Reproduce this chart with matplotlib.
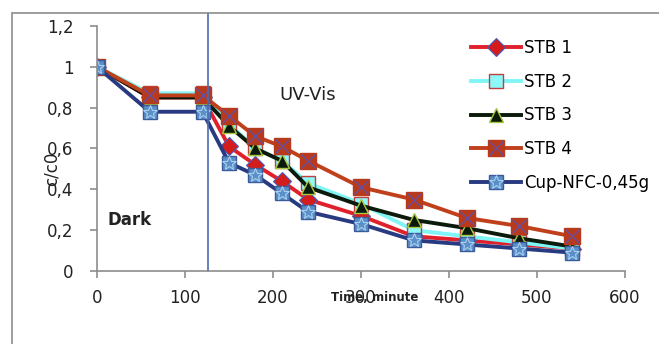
import matplotlib.pyplot as plt
from matplotlib.patches import Rectangle
from matplotlib.legend_handler import HandlerTuple
from matplotlib.ticker import FuncFormatter

# data
time = [0, 60, 120, 150, 180, 210, 240, 300, 360, 420, 480, 540]
stb1 = [1, 0.85, 0.85, 0.61, 0.52, 0.44, 0.35, 0.27, 0.17, 0.15, 0.13, 0.11]
stb2 = [1, 0.87, 0.87, 0.72, 0.60, 0.54, 0.43, 0.33, 0.20, 0.17, 0.14, 0.11]
stb3 = [1, 0.85, 0.85, 0.71, 0.60, 0.54, 0.41, 0.32, 0.25, 0.21, 0.16, 0.12]
stb4 = [1, 0.86, 0.86, 0.76, 0.66, 0.61, 0.54, 0.41, 0.35, 0.26, 0.22, 0.17]
cup = [1, 0.78, 0.78, 0.53, 0.47, 0.38, 0.29, 0.23, 0.15, 0.13, 0.11, 0.09]
uv_start = 126

fig = plt.figure(figsize=(6.59, 3.44), dpi=100)
# outer chart frame
fig.patches.append(Rectangle((12/659, -0.1), 700/659, 1 - 13/344 + 0.1,
                             transform=fig.transFigure, fill=False,
                             edgecolor='#8c8c8c', lw=1.2))
ax = fig.add_axes([97/659, 73/344, 528/659, 245/344])

ms = 10
lw = 2.8
l1, = ax.plot(time, stb1, color='#e0202a', lw=lw, marker='D', ms=ms-1,
              mfc='#d41c1c', mec='#4060c0', mew=0.8, label='STB 1')
l2, = ax.plot(time, stb2, color='#7ff5f5', lw=lw, marker='s', ms=ms,
              mfc='#8ff8f8', mec='#c04040', mew=1, label='STB 2')
l3, = ax.plot(time, stb3, color='#0b1a0b', lw=lw, marker='^', ms=ms,
              mfc='#0b1a0b', mec='#a8c840', mew=1, label='STB 3')
l4, = ax.plot(time, stb4, color='#c0401c', lw=lw, marker='s', ms=ms+1,
              mfc='#b83a1c', mec='#b83a1c', label='STB 4')
l4x, = ax.plot(time, stb4, ls='none', marker='x', ms=ms, mec='#6050b0', mew=0.9)
l5, = ax.plot(time, cup, color='#283a80', lw=lw, marker='s', ms=ms,
              mfc='#5b8fc8', mec='#3a5a9a', label='Cup-NFC-0,45g')
l5x, = ax.plot(time, cup, ls='none', marker='*', ms=ms, mfc='none', mec='#a8d0f0', mew=0.8)

ax.axvline(uv_start, ymin=0, ymax=(271 - 13) / 245, color='#4a6bb0', lw=1.2, clip_on=False)

ax.set_xlim(0, 600)
ax.set_ylim(0, 1.2)
ax.set_xticks(range(0, 601, 100))
ax.set_yticks([0, 0.2, 0.4, 0.6, 0.8, 1, 1.2])
ax.yaxis.set_major_formatter(FuncFormatter(lambda v, p: ('%g' % round(v, 1)).replace('.', ',')))
for s in ['top', 'right']:
    ax.spines[s].set_visible(False)
for s in ['left', 'bottom']:
    ax.spines[s].set_color('#8c8c8c')
    ax.spines[s].set_linewidth(1.2)
ax.tick_params(colors='#8c8c8c', labelcolor='#222222', labelsize=12, length=5, width=1.2)
ax.tick_params(axis='x', pad=8)
ax.tick_params(axis='y', pad=12)

ax.text(-52, 0.5, 'c/c0', rotation=90, fontsize=12, ha='center', va='center', color='#222222')
ax.text(316, -0.13, 'Time, minute', fontsize=8.5, fontweight='bold', ha='center', va='center', color='#222222')
ax.text(12, 0.25, 'Dark', fontsize=12, fontweight='bold', color='#222222', va='center')
ax.text(207, 0.86, 'UV-Vis', fontsize=13, color='#222222', va='center')

ax.legend([l1, l2, l3, (l4, l4x), (l5, l5x)],
          ['STB 1', 'STB 2', 'STB 3', 'STB 4', 'Cup-NFC-0,45g'],
          handler_map={tuple: HandlerTuple(ndivide=1, pad=0)},
          loc='upper left', bbox_to_anchor=(0.695, 0.975), frameon=False,
          fontsize=12, handlelength=3.0, labelspacing=0.95, handletextpad=0.2,
          borderaxespad=0)

plt.savefig('out.png')
